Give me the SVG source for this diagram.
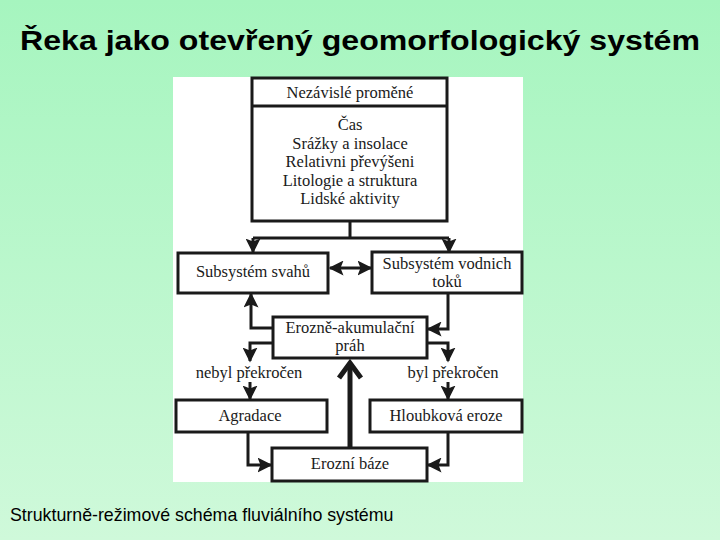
<svg xmlns="http://www.w3.org/2000/svg" width="720" height="540" viewBox="0 0 720 540">
<defs>
<linearGradient id="bg" x1="0" y1="0" x2="0" y2="1">
<stop offset="0" stop-color="#a6f5bf"/>
<stop offset="1" stop-color="#cff9da"/>
</linearGradient>
<marker id="ah" viewBox="0 0 10 10" refX="9" refY="5" markerWidth="5" markerHeight="5" orient="auto-start-reverse" markerUnits="strokeWidth">
<path d="M0,0 L10,5 L0,10 L2,5 Z" fill="#1a1a1a"/>
</marker>
<style>
.box{fill:#fff;stroke:#1a1a1a;stroke-width:3}
.c{fill:none;stroke:#1a1a1a;stroke-width:3}
.t{font-family:"Liberation Serif","Times New Roman",serif;font-size:16.5px;fill:#1a1a1a;text-anchor:middle}
</style>
</defs>
<rect width="720" height="540" fill="url(#bg)"/>
<text x="360" y="50" font-family="Liberation Sans, Arial, sans-serif" font-weight="bold" font-size="28" text-anchor="middle" textLength="680" lengthAdjust="spacingAndGlyphs" fill="#000">Řeka jako otevřený geomorfologický systém</text>
<rect x="173" y="77" width="350" height="405" fill="#fff"/>
<g id="connectors">
<path class="c" d="M350,222 V238 M253,238 H449"/>
<path class="c" d="M253,238 V252" marker-end="url(#ah)"/>
<path class="c" d="M449,238 V252" marker-end="url(#ah)"/>
<path class="c" d="M330,268 H371" marker-start="url(#ah)" marker-end="url(#ah)"/>
<path class="c" d="M273,328 H251 V294" marker-end="url(#ah)"/>
<path class="c" d="M448,293 V329 H428" marker-end="url(#ah)"/>
<path class="c" d="M273,343 H250 V361" marker-end="url(#ah)"/>
<path class="c" d="M427,343 H448 V361" marker-end="url(#ah)"/>
<path class="c" d="M250,382 V399" marker-end="url(#ah)"/>
<path class="c" d="M448,382 V399" marker-end="url(#ah)"/>
<path class="c" d="M248,432 V465 H271" marker-end="url(#ah)"/>
<path class="c" d="M448,432 V465 H428" marker-end="url(#ah)"/>
<path d="M350,448 V363" fill="none" stroke="#1a1a1a" stroke-width="5"/>
<path d="M339,378 L350,363 L361,378" fill="none" stroke="#1a1a1a" stroke-width="5"/>
</g>
<g id="node-nezavisle">
<rect class="box" x="252" y="78" width="195" height="143"/>
<line x1="252" y1="106" x2="447" y2="106" stroke="#1a1a1a" stroke-width="3"/>
<text class="t" x="350" y="98">Nezávislé proměné</text>
<text class="t" x="350" y="130">Čas</text>
<text class="t" x="350" y="149">Srážky a insolace</text>
<text class="t" x="350" y="167">Relativni převýšeni</text>
<text class="t" x="350" y="186">Litologie a struktura</text>
<text class="t" x="350" y="204">Lidské aktivity</text>
</g>
<g id="node-svahu">
<rect class="box" x="178" y="253" width="150" height="40"/>
<text class="t" x="253" y="277">Subsystém svahů</text>
</g>
<g id="node-toku">
<rect class="box" x="372" y="252" width="150" height="41"/>
<text class="t" x="447" y="269">Subsystém vodnich</text>
<text class="t" x="447" y="287">toků</text>
</g>
<g id="node-prah">
<rect class="box" x="273" y="317" width="154" height="41"/>
<text class="t" x="350" y="333">Erozně-akumulační</text>
<text class="t" x="350" y="351">práh</text>
</g>
<text class="t" x="249" y="378">nebyl překročen</text>
<text class="t" x="453" y="378">byl překročen</text>
<g id="node-agradace">
<rect class="box" x="176" y="400" width="151" height="32"/>
<text class="t" x="250" y="421">Agradace</text>
</g>
<g id="node-hloubkova">
<rect class="box" x="370" y="400" width="152" height="32"/>
<text class="t" x="446" y="421">Hloubková eroze</text>
</g>
<g id="node-baze">
<rect class="box" x="272" y="448" width="155" height="33"/>
<text class="t" x="350" y="469">Erozní báze</text>
</g>
<text x="10" y="521" font-family="Liberation Sans, Arial, sans-serif" font-size="17.8" fill="#000">Strukturně-režimové schéma fluviálního systému</text>
</svg>
